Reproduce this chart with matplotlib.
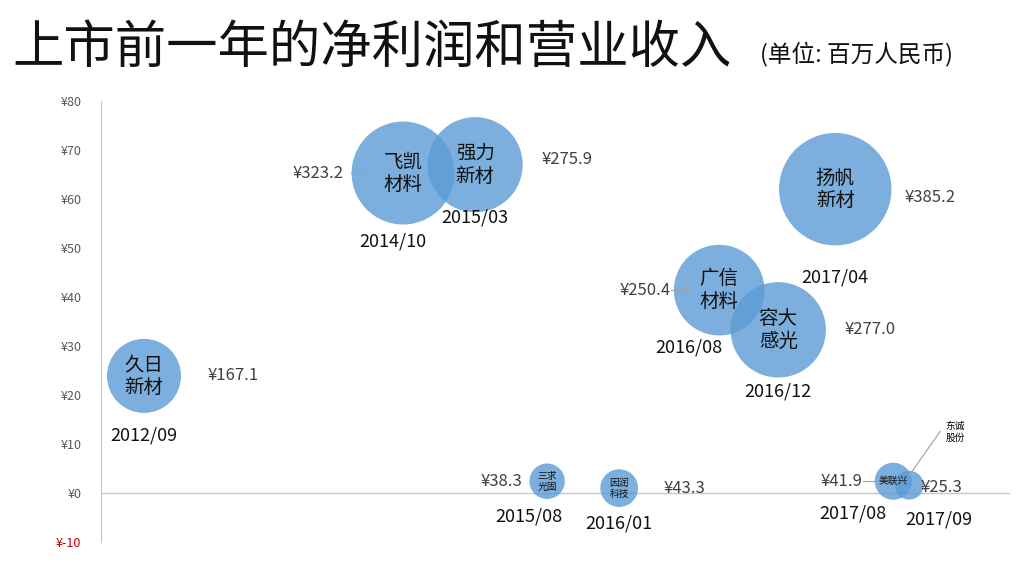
import matplotlib
matplotlib.use("Agg")
import matplotlib.pyplot as plt
import numpy as np

plt.rcParams["font.family"] = ["Noto Sans CJK SC", "DejaVu Sans"]

# 数据: 名称, 横向位置, 净利润(百万), 营业收入(百万), 上市时间
names = ["久日\n新材", "飞凯\n材料", "强力\n新材", "扬帆\n新材", "广信\n材料",
         "容大\n感光", "三求\n光固", "因润\n科技", "美联兴", ""]
xpos = [144, 403, 475, 835, 719, 778, 547, 619, 893, 909]
profit = [23.9, 65.3, 67.0, 62.0, 41.4, 33.3, 2.4, 1.0, 2.4, 1.6]
revenue = [167.1, 323.2, 275.9, 385.2, 250.4, 277.0, 38.3, 43.3, 41.9, 25.3]
dates = ["2012/09", "2014/10", "2015/03", "2017/04", "2016/08",
         "2016/12", "2015/08", "2016/01", "2017/08", "2017/09"]

fig = plt.figure(figsize=(10.16, 5.63), dpi=100)
ax = fig.add_axes([0.0994, 0.0373, 0.895, 0.7833])
ax.set_xlim(101, 1010)
ax.set_ylim(-10, 80)

ax.scatter(xpos, profit, s=[17 * v for v in revenue], color="#5b9bd5",
           alpha=0.8, edgecolors="none", zorder=2)

# 气泡内文字
for i, n in enumerate(names):
    small = revenue[i] < 100
    ax.text(xpos[i], profit[i], n, ha="center", va="center",
            fontsize=7 if small else 14, color="#111111", zorder=3,
            linespacing=1.1)

# 数值标签 (dx, dy 以像素计)
val_off = [(89, 0), (-85, 0), (92, 5), (95, -8), (-74, 0), (92, 0),
           (-46, 0), (65, 0), (-52, 0), (32, -2)]
date_off = [(0, -60), (-10, -68), (0, -53), (0, -88), (-30, -57),
            (0, -62), (-18, -35), (0, -35), (-40, -32), (30, -34)]
ppu = 4.9
for i, v in enumerate(revenue):
    dx, dy = val_off[i]
    ax.text(xpos[i] + dx, profit[i] + dy / ppu, f"¥{v:.1f}", ha="center",
            va="center", fontsize=12, color="#404040", zorder=3)
    dx, dy = date_off[i]
    ax.text(xpos[i] + dx, profit[i] + dy / ppu, dates[i], ha="center",
            va="center", fontsize=13, color="#111111", zorder=3)

# 引线
ax.plot([xpos[1] - 52, xpos[1] - 30], [profit[1], profit[1]], color="#a0a0a0", lw=0.8)
ax.plot([xpos[4] - 48, xpos[4] - 30], [profit[4], profit[4]], color="#a0a0a0", lw=0.8)
ax.plot([xpos[8] - 30, xpos[8] - 15], [profit[8], profit[8]], color="#a0a0a0", lw=0.8)
ax.plot([xpos[9], 940], [profit[9] + 2, profit[9] + 11], color="#a0a0a0", lw=0.8)
ax.text(955, 12.5, "东诚\n股份", ha="center", va="center", fontsize=7,
        linespacing=1.2)

ax.axhline(0, color="#c8c8c8", lw=1, zorder=1)
for s in ["top", "right", "bottom"]:
    ax.spines[s].set_visible(False)
ax.spines["left"].set_color("#c8c8c8")
ax.set_xticks([])
yt = np.arange(-10, 81, 10)
ax.set_yticks(yt)
ax.set_yticklabels([f"¥{t}" for t in yt], fontsize=9, color="#595959")
ax.get_yticklabels()[0].set_color("#c00000")
ax.tick_params(axis="y", length=0, pad=14)

fig.text(0.012, 0.915, "上市前一年的净利润和营业收入", fontsize=37,
         fontweight="light", va="center", ha="left", color="#111111")
fig.text(0.748, 0.905, "(单位: 百万人民币)", fontsize=17, va="center",
         ha="left", color="#111111")

fig.savefig("out.png", dpi=100)
